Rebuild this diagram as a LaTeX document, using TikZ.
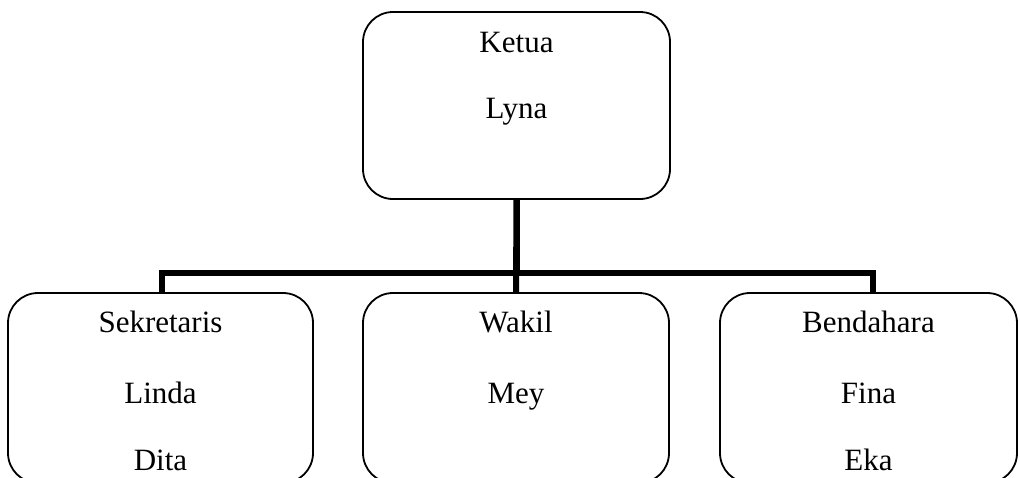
\documentclass[tikz,border=0pt]{standalone}
\usepackage{fontspec}
\setmainfont{Liberation Serif}
\begin{document}
\begin{tikzpicture}[x=1pt,y=-1pt,
  box/.style={draw=black, line width=1.8pt, rounded corners=30pt, inner sep=0pt, outer sep=0pt, fill=white},
  lbl/.style={anchor=base, inner sep=0pt, font=\fontsize{31}{36}\selectfont},
  conn/.style={draw=black, line width=6pt}]
\useasboundingbox (0,0) rectangle (1020,477);
\begin{scope}
\clip (0,0) rectangle (1020,477);
% connectors (drawn first, boxes on top)
\coordinate (bus) at (516.5,273);
\draw[conn] (516.5,199) -- (bus);
\node[box, minimum width=307pt, minimum height=187pt] (ketua) at (516.5,105.5) {};
\node[box, minimum width=305pt, minimum height=190pt] (sek) at (160.5,388) {};
\node[box, minimum width=306pt, minimum height=190pt] (wakil) at (516,388) {};
\node[box, minimum width=297pt, minimum height=190pt] (bend) at (868.5,388) {};
\draw[conn] (ketua.south) -- (wakil.north);
\draw[conn] ([xshift=1.5pt]sek.north) |- (bus) -| ([xshift=4.5pt]bend.north);
\end{scope}
\node[lbl] (t1) at (516.5,52) {Ketua};
\node[lbl] (t2) at (516.5,118) {Lyna};
\node[lbl] (s1) at (160.5,332) {Sekretaris};
\node[lbl] (s2) at (160.5,403) {Linda};
\node[lbl] (s3) at (160.5,470) {Dita};
\node[lbl] (w1) at (516,332) {Wakil};
\node[lbl] (w2) at (516,403) {Mey};
\node[lbl] (b1) at (868.5,332) {Bendahara};
\node[lbl] (b2) at (868.5,403) {Fina};
\node[lbl] (b3) at (868.5,470) {Eka};
\end{tikzpicture}
\end{document}
